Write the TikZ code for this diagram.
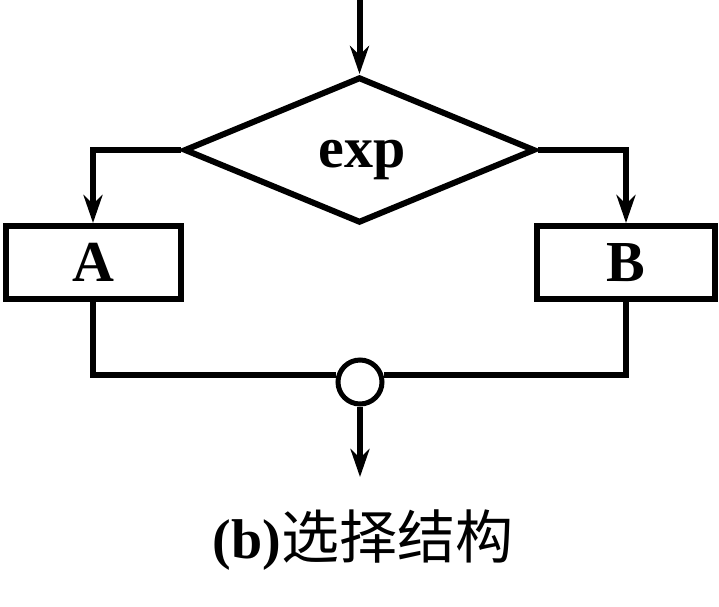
\documentclass[tikz,border=0pt]{standalone}
\usepackage{fontspec}
\setmainfont{Liberation Serif}
\newfontfamily\cjk{Noto Sans CJK SC}
\usetikzlibrary{shapes.geometric,arrows.meta}
\tikzset{
  flow/.style={line width=6pt},
  arr/.style={flow,-{Stealth[length=28pt,width=19pt,inset=9pt]}},
  box/.style={draw,line width=6pt,rectangle,inner sep=0pt,minimum height=73pt,font=\fontsize{58}{60}\selectfont\bfseries},
  decide/.style={draw,line width=6pt,diamond,inner sep=0pt,minimum width=351pt,minimum height=146pt},
  joint/.style={draw,line width=5pt,circle,inner sep=0pt,minimum size=44pt,fill=white}
}
\begin{document}
\begin{tikzpicture}[x=1pt,y=-1pt]
\useasboundingbox (0,0) rectangle (719,606);
\node[decide] (d) at (359.5,150) {};
\node[anchor=base,font=\fontsize{58}{60}\selectfont\bfseries] (e) at (362,167) {exp};
\node[box,minimum width=175pt] (A) at (93,262.5) {A};
\node[box,minimum width=178pt] (B) at (626,262.5) {B};
\node[joint] (c) at (360,382) {};
\coordinate (in) at (359.5,0);
\coordinate (out) at (360,477);
\draw[arr] (in) -- (d.north);
\draw[arr] (d.west) -| (A.north);
\draw[arr] (d.east) -| (B.north);
\draw[flow] (A.south) |- (c.164);
\draw[flow] (B.south) |- (c.16);
\draw[arr] (c.south) -- (out);
\node[anchor=base] (cap) at (363,558) {\fontsize{56}{60}\selectfont\bfseries (b)\fontsize{58}{60}\selectfont\mdseries\cjk 选择结构};
\end{tikzpicture}
\end{document}
